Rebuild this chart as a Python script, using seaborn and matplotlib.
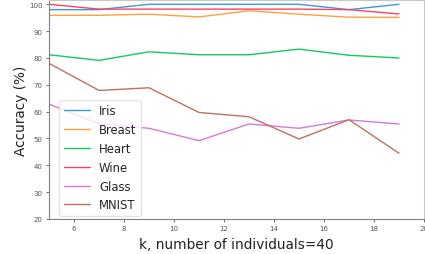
import matplotlib
matplotlib.use("Agg")
import matplotlib.pyplot as plt
import seaborn as sns
import pandas as pd

# k values on the x axis
k_values = [5, 7, 9, 11, 13, 15, 17, 19]

# accuracy (%) per dataset
iris = [98.0, 98.0, 100.0, 100.0, 100.0, 100.0, 98.0, 100.0]
breast = [95.9, 95.9, 96.3, 95.3, 97.6, 96.3, 95.2, 95.1]
heart = [81.2, 79.1, 82.3, 81.2, 81.2, 83.3, 81.0, 80.0]
wine = [100.0, 98.2, 98.2, 98.2, 98.2, 98.2, 98.0, 96.4]
glass = [62.8, 55.5, 53.8, 49.2, 55.4, 53.8, 56.9, 55.4]
mnist = [78.0, 67.9, 68.9, 59.7, 58.1, 49.8, 57.0, 44.5]

datasets = ["Iris", "Breast", "Heart", "Wine", "Glass", "MNIST"]
colors = ["#3a9ad9", "#ffa040", "#10cc60", "#ff4060", "#d878d8", "#c07060"]

df = pd.DataFrame({
    "k": k_values * len(datasets),
    "accuracy": iris + breast + heart + wine + glass + mnist,
    "dataset": [d for d in datasets for _ in k_values],
})

sns.set_style("ticks")
plt.rcParams["font.family"] = ["DejaVu Sans"]

fig = plt.figure(figsize=(4.25, 2.55), dpi=100)
ax = fig.add_axes([49 / 425, 1 - 220 / 255, 375 / 425, 219 / 255])

sns.lineplot(data=df, x="k", y="accuracy", hue="dataset",
             palette=dict(zip(datasets, colors)), hue_order=datasets,
             linewidth=1.0, ax=ax)

ax.set_xlim(5, 20)
ax.set_ylim(20, 101.6)
ax.set_xticks([6, 8, 10, 12, 14, 16, 18, 20])
ax.set_yticks([20, 30, 40, 50, 60, 70, 80, 90, 100])
ax.tick_params(labelsize=5, colors="#555555", length=2.5, width=0.6, pad=2)

for side in ["left", "bottom"]:
    ax.spines[side].set_color("#808080")
for side in ["top", "right"]:
    ax.spines[side].set_color("#c8c8c8")

ax.set_xlabel("k, number of individuals=40", fontsize=9.8, color="#222222")
ax.set_ylabel("Accuracy (%)", fontsize=9.8, color="#222222", labelpad=1)

leg = ax.legend(loc="lower left", bbox_to_anchor=(0.02, 0.0), fontsize=8.4,
                frameon=True, handlelength=2.2, borderaxespad=0.25)
leg.get_frame().set_edgecolor("#dddddd")

fig.savefig("out.png", dpi=100)
